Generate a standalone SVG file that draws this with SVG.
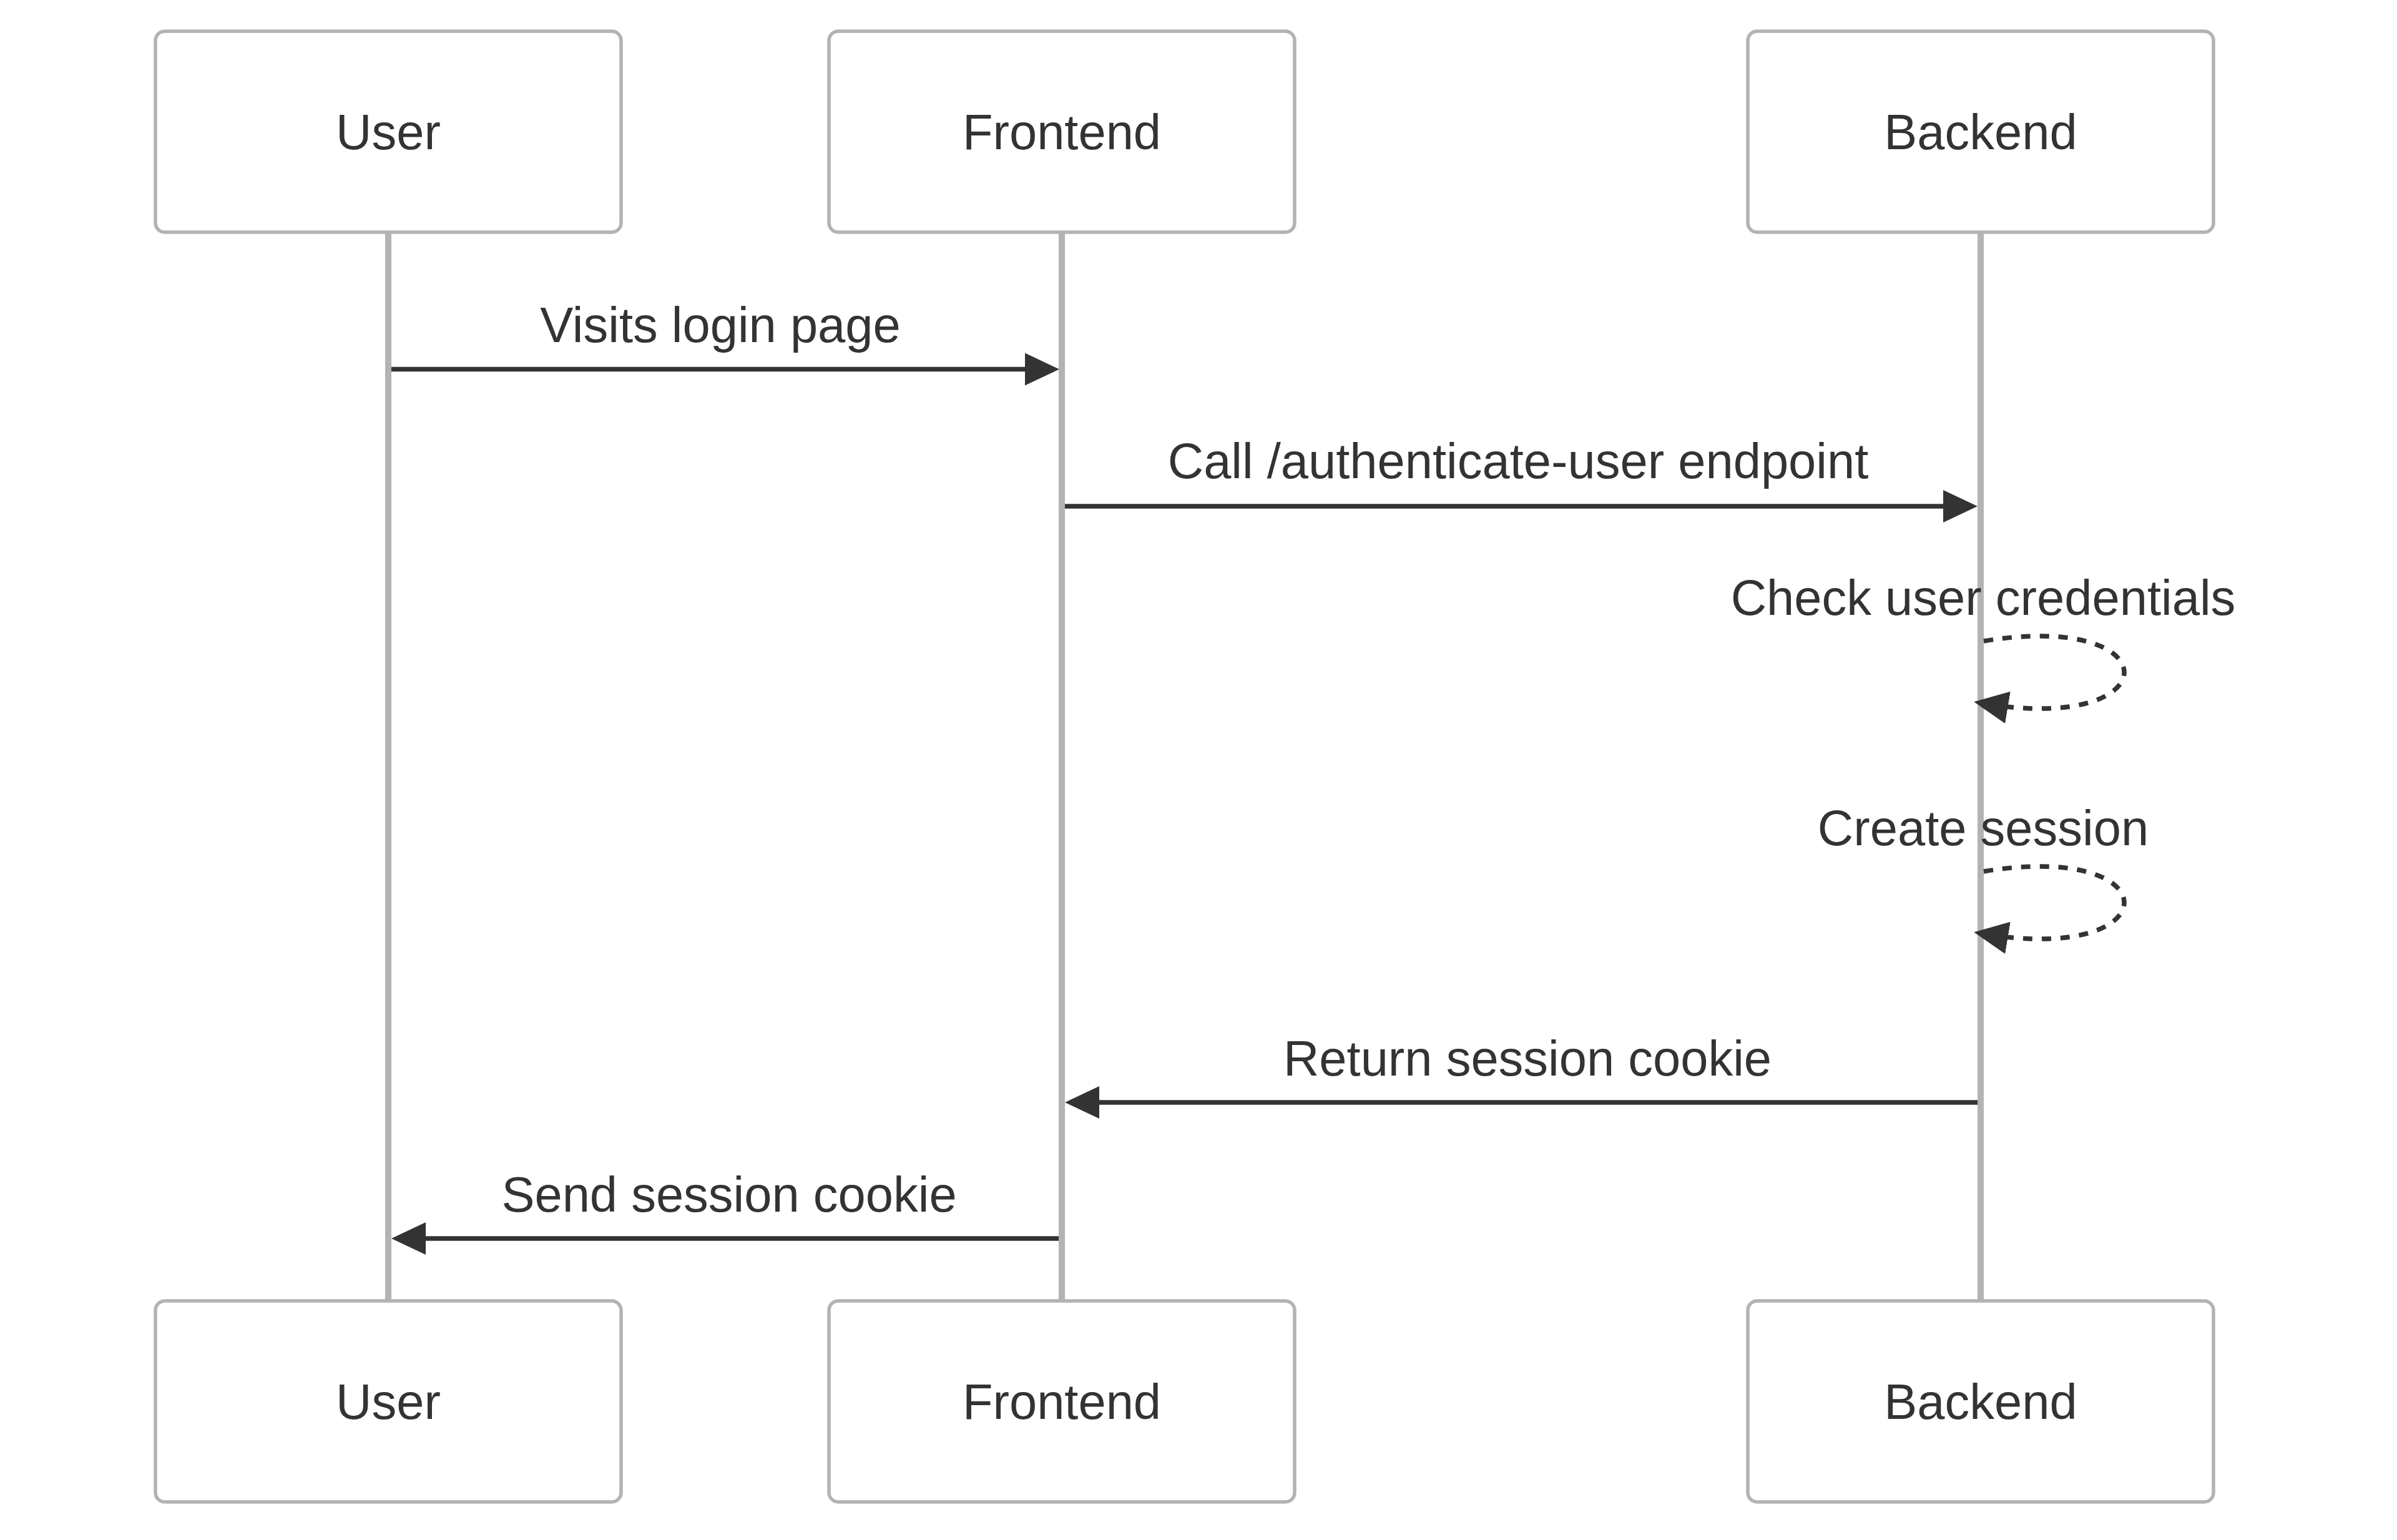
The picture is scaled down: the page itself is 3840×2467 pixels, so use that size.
<svg xmlns="http://www.w3.org/2000/svg" width="3840" height="2467" viewBox="0 0 3840 2467">
<style>
.actor{fill:#ffffff;stroke:#b3b3b3;stroke-width:5.5}
.atext{font-family:"Liberation Sans",Arial,sans-serif;font-size:79.5px;fill:#333333;text-anchor:middle;dominant-baseline:central}
.life{stroke:#b3b3b3;stroke-width:10;fill:none}
.msg{stroke:#333333;stroke-width:7.5;fill:none}
.dash{stroke:#333333;stroke-width:7.5;fill:none;stroke-dasharray:15 15}
.mtext{font-family:"Liberation Sans",Arial,sans-serif;font-size:79.5px;fill:#333333;text-anchor:middle}
</style>
<defs>
<marker id="arrow" markerUnits="userSpaceOnUse" markerWidth="60" markerHeight="56" refX="39" refY="26" orient="auto">
<path d="M0,0 L55,26 L0,52 z" fill="#333333"/>
</marker>
</defs>
<rect width="3840" height="2467" fill="#ffffff"/>
<g id="lifelines">
<line class="life" x1="622" y1="372" x2="622" y2="2084"/>
<line class="life" x1="1701" y1="372" x2="1701" y2="2084"/>
<line class="life" x1="3173" y1="372" x2="3173" y2="2084"/>
</g>
<g id="actor-user-top"><rect class="actor" x="249" y="50" width="746" height="322" rx="15"/><text class="atext" x="622" y="211">User</text></g>
<g id="actor-frontend-top"><rect class="actor" x="1328" y="50" width="746" height="322" rx="15"/><text class="atext" x="1701" y="211">Frontend</text></g>
<g id="actor-backend-top"><rect class="actor" x="2800" y="50" width="746" height="322" rx="15"/><text class="atext" x="3173" y="211">Backend</text></g>
<g id="actor-user-bottom"><rect class="actor" x="249" y="2084" width="746" height="322" rx="15"/><text class="atext" x="622" y="2245">User</text></g>
<g id="actor-frontend-bottom"><rect class="actor" x="1328" y="2084" width="746" height="322" rx="15"/><text class="atext" x="1701" y="2245">Frontend</text></g>
<g id="actor-backend-bottom"><rect class="actor" x="2800" y="2084" width="746" height="322" rx="15"/><text class="atext" x="3173" y="2245">Backend</text></g>
<g id="connectors">
<line class="msg" x1="627" y1="591.5" x2="1681" y2="591.5" marker-end="url(#arrow)"/>
<text class="mtext" x="1154" y="548">Visits login page</text>
<line class="msg" x1="1706" y1="811" x2="3152" y2="811" marker-end="url(#arrow)"/>
<text class="mtext" x="2432" y="766">Call /authenticate-user endpoint</text>
<path class="dash" d="M3178,1027 C3478,977 3478,1177 3178,1127" marker-end="url(#arrow)"/>
<text class="mtext" x="3177" y="985">Check user credentials</text>
<path class="dash" d="M3178,1396 C3478,1346 3478,1546 3178,1496" marker-end="url(#arrow)"/>
<text class="mtext" x="3177" y="1354">Create session</text>
<line class="msg" x1="3168" y1="1766" x2="1722" y2="1766" marker-end="url(#arrow)"/>
<text class="mtext" x="2447" y="1723">Return session cookie</text>
<line class="msg" x1="1696" y1="1984" x2="643" y2="1984" marker-end="url(#arrow)"/>
<text class="mtext" x="1168" y="1941">Send session cookie</text>
</g>
</svg>
